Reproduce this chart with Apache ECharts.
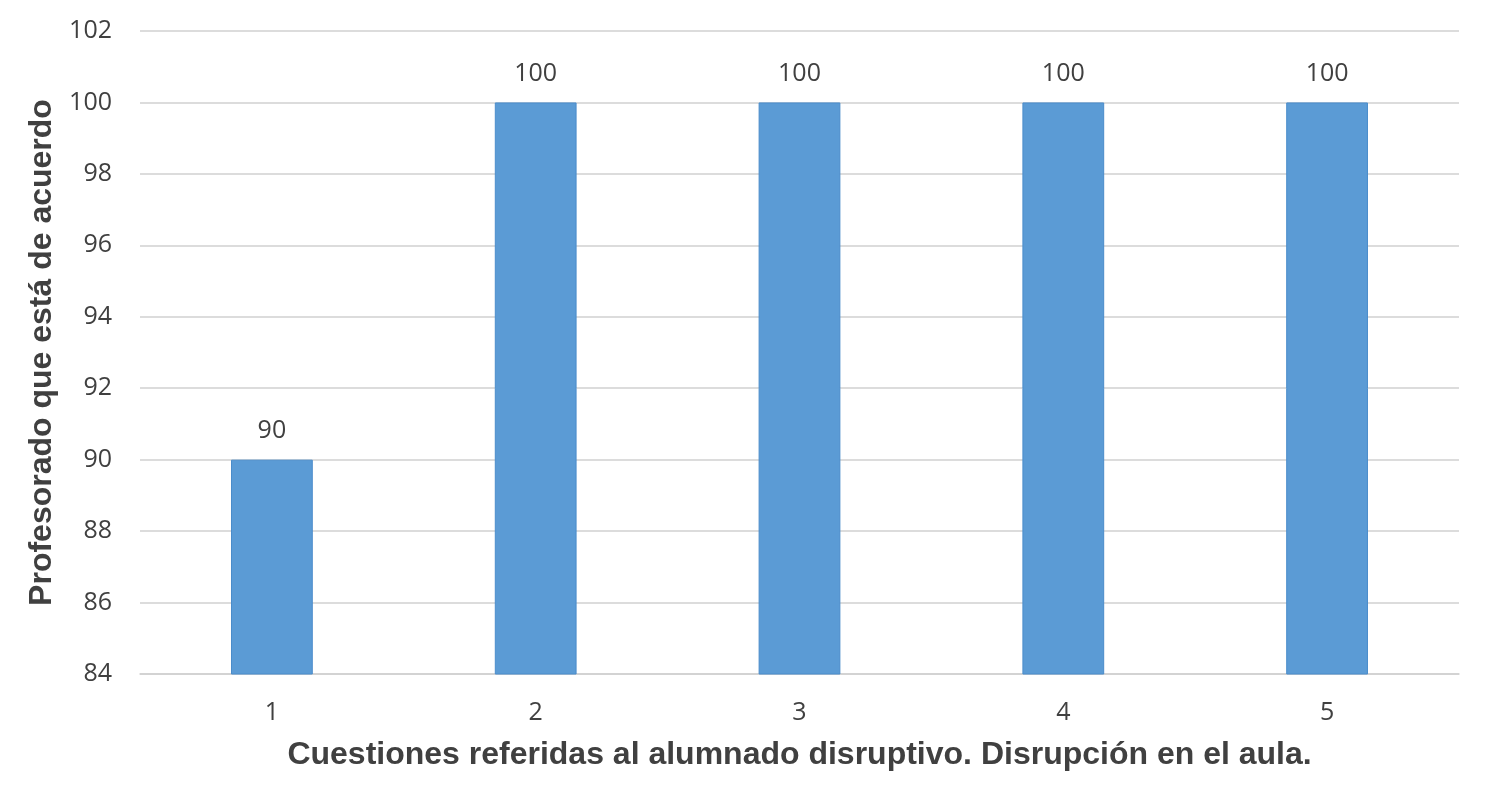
<!DOCTYPE html>
<html><head><meta charset="utf-8">
<script src="https://cdn.jsdelivr.net/npm/echarts@6/dist/echarts.min.js"></script>
<style>html,body{margin:0;padding:0;background:#fff}#c{width:1500px;height:806px}</style>
</head><body><div id="c"></div>
<script>
const categories = ['1','2','3','4','5'];
const values = [90,100,100,100,100];
const yTicks = {min:84,max:102,interval:2};
const chart = echarts.init(document.getElementById('c'));
chart.setOption({
  animation:false,
  grid:{left:140,right:41,top:31,bottom:132,containLabel:false},
  xAxis:{type:'category',data:categories,
    name:'Cuestiones referidas al alumnado disruptivo. Disrupción en el aula.',
    nameLocation:'middle',nameGap:65,
    nameTextStyle:{fontFamily:'Liberation Sans',fontWeight:'bold',fontSize:32,color:'#404040'},
    axisLine:{lineStyle:{color:'#d0d0d0',width:1.5}},axisTick:{show:false},
    axisLabel:{fontFamily:'Open Sans',fontSize:25,color:'#404040',margin:26}},
  yAxis:{type:'value',min:yTicks.min,max:yTicks.max,interval:yTicks.interval,
    name:'Profesorado que está de acuerdo',nameLocation:'middle',nameGap:82,
    nameTextStyle:{fontFamily:'Liberation Sans',fontWeight:'bold',fontSize:32,color:'#404040'},
    axisLine:{show:false},axisTick:{show:false},
    axisLabel:{fontFamily:'Open Sans',fontSize:25,color:'#404040',margin:28},
    splitLine:{lineStyle:{color:'#d0d0d0',width:1.5}}},
  series:[{type:'bar',data:values,barWidth:'31%',
    itemStyle:{color:'#5B9BD5',borderColor:'#4A8CCB',borderWidth:1},
    label:{show:true,position:'top',distance:16,fontFamily:'Open Sans',fontSize:25,color:'#404040'}}]
});
</script></body></html>
